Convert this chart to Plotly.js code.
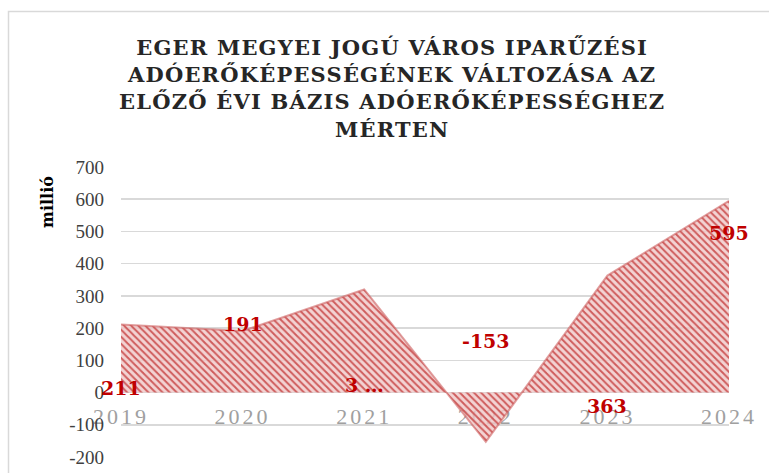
<!DOCTYPE html>
<html>
<head>
<meta charset="utf-8">
<script src="https://cdn.plot.ly/plotly-3.0.1.min.js"></script>
<style>
  html, body { margin: 0; padding: 0; background: #fff; }
  #chart { width: 769px; height: 473px; }
  .gtitle { letter-spacing: 1.2px; }
  .xtick text { letter-spacing: 3px; }
</style>
</head>
<body>
<div id="chart"></div>
<script>
// ---- data ----
const years = [2019, 2020, 2021, 2022, 2023, 2024];
const yearLabels = ["2019", "2020", "2021", "2022", "2023", "2024"];
const values = [211, 191, 320, -153, 363, 595];
const dataLabels = ["211", "191", "3 …", "-153", "363", "595"];
const yTicks = [-200, -100, 0, 100, 200, 300, 400, 500, 600, 700];
const yTickLabels = ["-200", "-100", "0", "100", "200", "300", "400", "500", "600", "700"];

// label placement (as shown in the reference)
const labelY = [15, 214, 22, 161, -43, 494];

const trace = {
  x: years,
  y: values,
  type: 'scatter',
  mode: 'lines',
  fill: 'tozeroy',
  line: { color: 'rgba(205,95,95,0.6)', width: 2 },
  fillcolor: 'rgba(240,200,200,0.8)',
  fillpattern: { shape: '\\', fgcolor: 'rgba(200,70,70,0.85)', bgcolor: 'rgba(240,200,200,0.8)', size: 5, solidity: 0.4 },
  hoverinfo: 'x+y',
  showlegend: false
};

const annotations = years.map((yr, i) => ({
  x: yr, y: labelY[i], xref: 'x', yref: 'y',
  text: dataLabels[i], showarrow: false,
  font: { family: 'DejaVu Serif', size: 19, color: '#c00000', weight: 'bold' },
  xanchor: 'center', yanchor: 'middle'
}));
annotations.push({
  xref: 'paper', yref: 'paper',
  x: (47 - 121) / 608, y: (457 - 202) / 290,
  text: 'millió', textangle: -90, showarrow: false,
  font: { family: 'DejaVu Serif', size: 16, color: '#000', weight: 'bold' },
  xanchor: 'center', yanchor: 'middle'
});

const layout = {
  width: 769, height: 473,
  margin: { l: 121, r: 40, t: 167, b: 16 },
  paper_bgcolor: '#fff', plot_bgcolor: '#fff',
  title: {
    text: 'EGER MEGYEI JOGÚ VÁROS IPARŰZÉSI<br>ADÓERŐKÉPESSÉGÉNEK VÁLTOZÁSA AZ<br>ELŐZŐ ÉVI BÁZIS ADÓERŐKÉPESSÉGHEZ<br>MÉRTEN',
    font: { family: 'DejaVu Serif', size: 21, color: '#262626', weight: 'bold' },
    xref: 'container', yref: 'container', x: 0.51, xanchor: 'center',
    y: 0.884, yanchor: 'top'
  },
  xaxis: {
    type: 'linear', range: [2019, 2024],
    tickvals: years, ticktext: yearLabels,
    showgrid: false, zeroline: false, showline: false, ticks: '',
    anchor: 'free', position: 200 / 900,
    layer: 'below traces',
    ticklabelstandoff: 8,
    tickfont: { family: 'Liberation Serif', size: 22, color: '#a0a0a0' },
    fixedrange: true
  },
  yaxis: {
    range: [-200, 700], tickvals: yTicks, ticktext: yTickLabels,
    showgrid: true, gridcolor: '#d9d9d9', gridwidth: 1.5,
    zeroline: false, showline: false, ticks: '',
    ticklabelstandoff: 16,
    tickfont: { family: 'Liberation Serif', size: 19, color: '#404040' },
    fixedrange: true
  },
  shapes: [{
    type: 'rect', xref: 'paper', yref: 'paper',
    x0: (8.5 - 121) / 608, x1: (790 - 121) / 608,
    y0: -0.3, y1: (457 - 11.5) / 290,
    line: { color: '#d9d9d9', width: 1.5 }, fillcolor: 'rgba(0,0,0,0)', layer: 'below'
  }],
  annotations: annotations
};

Plotly.newPlot('chart', [trace], layout, { staticPlot: true, displayModeBar: false });
</script>
</body>
</html>
